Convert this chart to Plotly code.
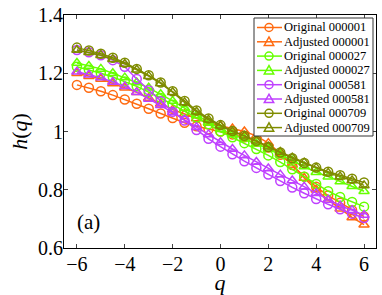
import plotly.graph_objects as go

q = [-6, -5.5, -5, -4.5, -4, -3.5, -3, -2.5, -2, -1.5, -1, -0.5, 0,
     0.5, 1, 1.5, 2, 2.5, 3, 3.5, 4, 4.5, 5, 5.5, 6]

orig_000001 = [1.160, 1.150, 1.138, 1.125, 1.110, 1.095, 1.078, 1.062, 1.046, 1.030, 1.018, 1.008, 1.000,
               0.990, 0.980, 0.965, 0.945, 0.920, 0.885, 0.845, 0.810, 0.780, 0.755, 0.730, 0.708]
adj_000001 = [1.200, 1.190, 1.180, 1.165, 1.150, 1.135, 1.115, 1.095, 1.075, 1.060, 1.045, 1.030, 1.020,
              1.010, 1.000, 0.985, 0.960, 0.925, 0.885, 0.840, 0.800, 0.765, 0.735, 0.705, 0.680]
orig_000027 = [1.222, 1.212, 1.200, 1.187, 1.172, 1.155, 1.135, 1.115, 1.092, 1.070, 1.048, 1.025, 1.000,
               0.980, 0.960, 0.940, 0.918, 0.895, 0.870, 0.845, 0.820, 0.795, 0.775, 0.758, 0.742]
adj_000027 = [1.235, 1.225, 1.215, 1.200, 1.185, 1.168, 1.150, 1.128, 1.105, 1.080, 1.055, 1.030, 1.008,
              0.990, 0.975, 0.958, 0.940, 0.920, 0.900, 0.880, 0.860, 0.845, 0.828, 0.812, 0.795]
orig_000581 = [1.280, 1.272, 1.262, 1.245, 1.222, 1.180, 1.142, 1.104, 1.068, 1.038, 1.005, 0.975, 0.948,
               0.922, 0.898, 0.875, 0.852, 0.830, 0.808, 0.788, 0.768, 0.750, 0.733, 0.718, 0.703]
adj_000581 = [1.205, 1.195, 1.185, 1.170, 1.155, 1.135, 1.112, 1.090, 1.066, 1.040, 1.015, 0.990, 0.963,
              0.940, 0.918, 0.895, 0.873, 0.852, 0.832, 0.810, 0.788, 0.765, 0.745, 0.730, 0.713]
orig_000709 = [1.288, 1.278, 1.267, 1.253, 1.236, 1.215, 1.193, 1.168, 1.138, 1.105, 1.072, 1.045, 1.022,
               1.002, 0.985, 0.968, 0.947, 0.928, 0.908, 0.892, 0.876, 0.862, 0.850, 0.838, 0.825]
adj_000709 = [1.280, 1.272, 1.262, 1.248, 1.232, 1.212, 1.190, 1.165, 1.135, 1.100, 1.068, 1.040, 1.020,
              1.000, 0.985, 0.968, 0.948, 0.930, 0.910, 0.893, 0.875, 0.858, 0.845, 0.832, 0.815]

series_names = ["Original 000001", "Adjusted 000001", "Original 000027", "Adjusted 000027",
                "Original 000581", "Adjusted 000581", "Original 000709", "Adjusted 000709"]
series_values = [orig_000001, adj_000001, orig_000027, adj_000027,
                 orig_000581, adj_000581, orig_000709, adj_000709]
colors = ["#FF6A10", "#FF6A10", "#66FF00", "#66FF00",
          "#BF40FF", "#BF40FF", "#7F8C00", "#7F8C00"]
symbols = ["circle-open", "triangle-up-open"] * 4

x_ticks = [-6, -4, -2, 0, 2, 4, 6]
y_ticks = [0.6, 0.8, 1.0, 1.2, 1.4]
y_tick_text = ["0.6", "0.8", "1", "1.2", "1.4"]

W, H = 382, 295
ML, MR, MT, MB = 64, 6, 15, 47
PW, PH = W - ML - MR, H - MT - MB

def px(xp):
    return (xp - ML) / PW

def py(yp):
    return (H - MB - yp) / PH

fig = go.Figure()
for name, vals, c, s in zip(series_names, series_values, colors, symbols):
    fig.add_trace(go.Scatter(
        x=q, y=vals, name=name, mode="lines+markers",
        line=dict(color=c, width=1.5),
        marker=dict(symbol=s, size=9, color=c, line=dict(color=c, width=1.5)),
        showlegend=False,
    ))

serif = "Liberation Serif, Times New Roman, serif"

# hand-built compact legend (layout decoration)
shapes = [dict(type="rect", xref="paper", yref="paper",
               x0=px(254), x1=px(373), y0=py(18), y1=py(136),
               line=dict(color="#333333", width=1), fillcolor="white", layer="above")]
annotations = []
row0, rowstep = 27.5, 14.3
for i, (name, c, s) in enumerate(zip(series_names, colors, symbols)):
    cy = row0 + i * rowstep
    cx = 269
    shapes.append(dict(type="line", xref="paper", yref="paper",
                       x0=px(257), x1=px(282), y0=py(cy), y1=py(cy),
                       line=dict(color=c, width=1.5), layer="above"))
    if s.startswith("circle"):
        r = 4
        shapes.append(dict(type="circle", xref="paper", yref="paper",
                           x0=px(cx - r), x1=px(cx + r), y0=py(cy + r), y1=py(cy - r),
                           line=dict(color=c, width=1.5), layer="above"))
    else:
        path = "M {:.5f} {:.5f} L {:.5f} {:.5f} L {:.5f} {:.5f} Z".format(
            px(cx - 4.7), py(cy + 3.6), px(cx + 4.7), py(cy + 3.6), px(cx), py(cy - 4.8))
        shapes.append(dict(type="path", xref="paper", yref="paper", path=path,
                           line=dict(color=c, width=1.5), layer="above"))
    annotations.append(dict(text=name, xref="paper", yref="paper",
                            x=px(283), y=py(cy), xanchor="left", yanchor="middle",
                            showarrow=False, borderpad=0,
                            font=dict(family=serif, size=12.5, color="black")))

annotations.append(dict(
    text="(a)", x=-6.1, y=0.69, xref="x", yref="y", showarrow=False,
    xanchor="left", yanchor="middle", font=dict(family=serif, size=21),
))

fig.update_layout(
    width=W, height=H,
    margin=dict(l=ML, r=MR, t=MT, b=MB),
    paper_bgcolor="white", plot_bgcolor="white",
    font=dict(family=serif, size=20, color="black"),
    showlegend=False,
    xaxis=dict(
        range=[-6.54, 6.5], tickvals=x_ticks, ticks="inside", ticklen=4,
        showline=True, linecolor="black", linewidth=1, mirror="ticks",
        showgrid=False, zeroline=False, ticklabelstandoff=-2,
        tickfont=dict(family=serif, size=20),
        title=dict(text="<i>q</i>", font=dict(family=serif, size=22), standoff=3),
        automargin=False,
    ),
    yaxis=dict(
        range=[0.6, 1.4], tickvals=y_ticks, ticktext=y_tick_text, ticks="inside", ticklen=4,
        showline=True, linecolor="black", linewidth=1, mirror="ticks",
        showgrid=False, zeroline=False, ticklabelstandoff=-4,
        tickfont=dict(family=serif, size=20),
        title=dict(text="<i>h</i>(<i>q</i>)", font=dict(family=serif, size=22), standoff=4),
        automargin=False,
    ),
    shapes=shapes,
    annotations=annotations,
)

fig.write_html("out.html", config={"displayModeBar": False},
               post_script="document.body.style.margin='0';")
